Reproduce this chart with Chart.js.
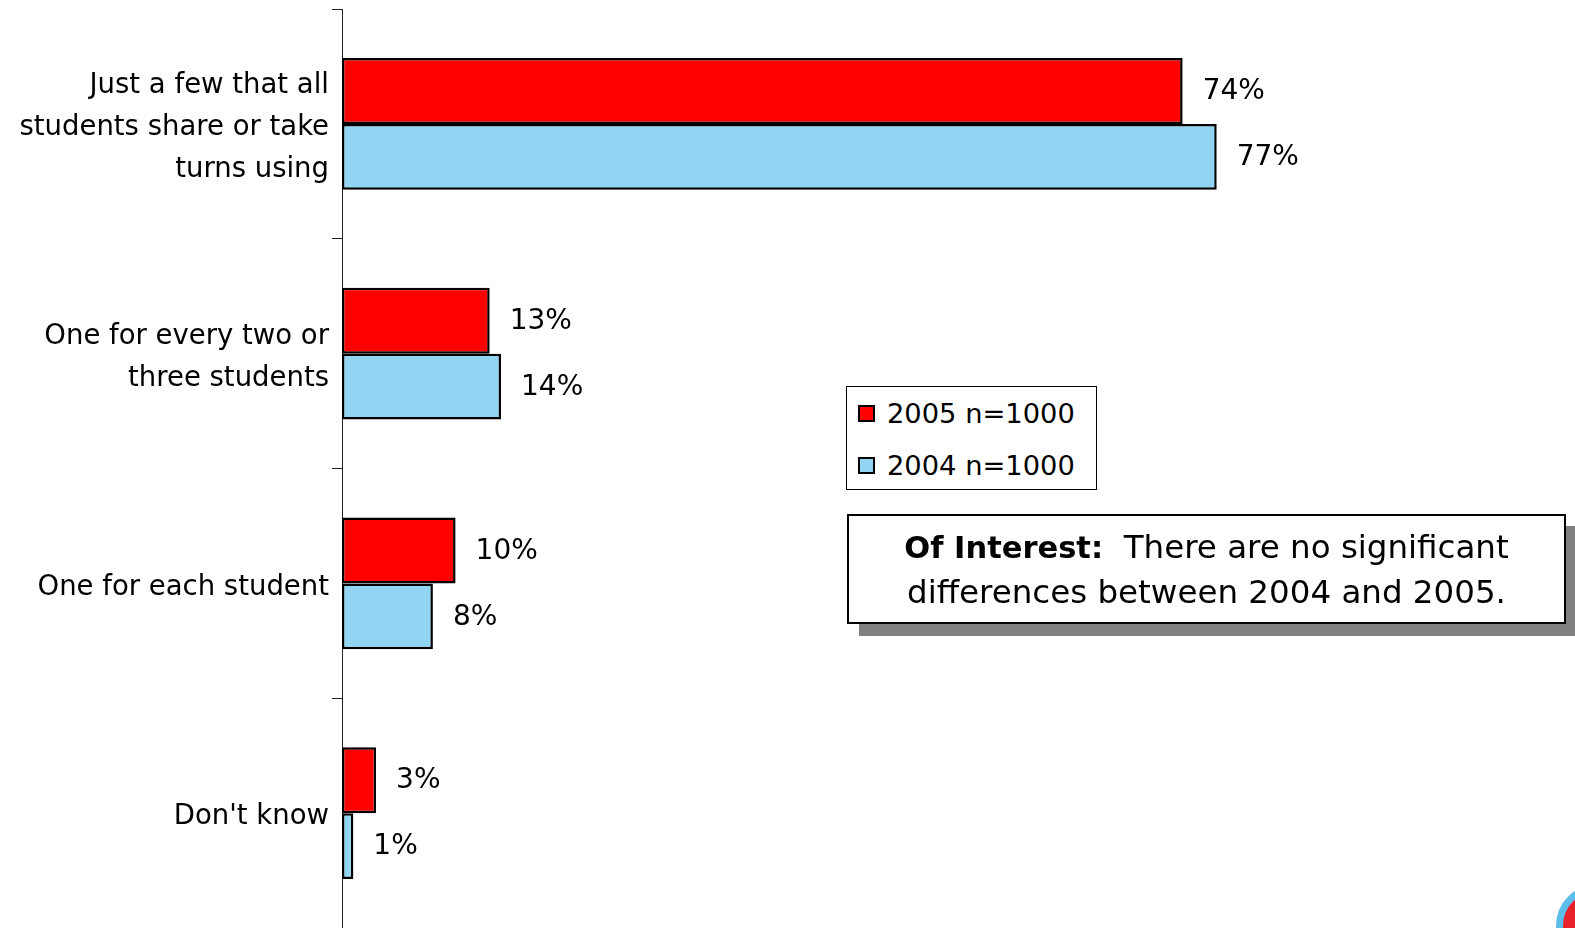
<!DOCTYPE html>
<html>
<head>
<meta charset="utf-8">
<script src="https://cdn.jsdelivr.net/npm/chart.js@4"></script>
<style>
  html, body { margin: 0; padding: 0; background: #fff; }
  #wrap { position: relative; width: 1575px; height: 928px; overflow: hidden; font-family: "DejaVu Sans", sans-serif; color: #000; }
  #legend { position: absolute; left: 846px; top: 386px; width: 249px; height: 102px; border: 1px solid #000; background: #fff; }
  .leg-row { position: absolute; left: 11px; height: 34px; display: flex; align-items: center; font-size: 27.3px; white-space: nowrap; }
  .leg-sw { width: 13px; height: 13px; border: 2px solid #000; margin-right: 12px; }
  #note { position: absolute; left: 847px; top: 514px; width: 715px; height: 106px; border: 2px solid #000; background: #fff;
          box-shadow: 12px 12px 0 #808080; display: flex; align-items: center; justify-content: center;
          text-align: center; font-size: 32.5px; line-height: 44px; }
  #note b { font-size: 30.5px; }
  /* corner of the logo peeking in at the bottom right */
  #logo { position: absolute; left: 1556px; top: 884px; width: 70px; height: 70px; border-radius: 50%;
          border: 7px solid #5cbde9; background: #e8202a; }
</style>
</head>
<body>
<div id="wrap">
  <canvas id="chart" width="1575" height="928"></canvas>
  <div id="legend"></div>
  <div id="note"><div><b>Of Interest:</b>&nbsp; There are no significant<br>differences between 2004 and 2005.</div></div>
  <div id="logo"></div>
</div>
<script>
// categories (multi-line labels) and values in percent
const CATEGORIES = [
  ['Just a few that all', 'students share or take', 'turns using'],
  ['One for every two or', 'three students'],
  ['One for each student'],
  ["Don't know"],
];
const SERIES_NAMES = ['2005 n=1000', '2004 n=1000'];
const SERIES_COLORS = ['#ff0000', '#92d5f3'];
const VALUES_2005 = [74, 13, 10, 3];
const VALUES_2004 = [77, 14, 8, 1];

const FONT = 'DejaVu Sans';

// percent labels to the right of each bar
const valueLabels = {
  id: 'valueLabels',
  afterDatasetsDraw(chart) {
    const ctx = chart.ctx;
    ctx.save();
    ctx.font = `28px "${FONT}"`;
    ctx.fillStyle = '#000';
    ctx.textBaseline = 'middle';
    ctx.textAlign = 'left';
    chart.data.datasets.forEach((ds, i) => {
      chart.getDatasetMeta(i).data.forEach((bar, j) => {
        ctx.fillText(ds.data[j] + '%', bar.x + 20, bar.y + 1);
      });
    });
    ctx.restore();
  }
};

const chart = new Chart(document.getElementById('chart'), {
  type: 'bar',
  data: {
    labels: CATEGORIES,
    datasets: [VALUES_2005, VALUES_2004].map((vals, i) => ({
      label: SERIES_NAMES[i],
      data: vals,
      backgroundColor: SERIES_COLORS[i],
      borderColor: '#000',
      borderWidth: 2.5,
      borderSkipped: false,
      categoryPercentage: 0.574,
      barPercentage: 1,
    })),
  },
  options: {
    indexAxis: 'y',
    responsive: false,
    animation: false,
    layout: { padding: { top: 9, right: 97, bottom: 0, left: 0 } },
    plugins: { legend: { display: false }, tooltip: { enabled: false } },
    scales: {
      x: { display: false, min: 0, max: 100 },
      y: {
        grid: { offset: true, drawOnChartArea: false, tickLength: 10, color: '#222', lineWidth: 1 },
        border: { color: '#222', width: 1 },
        ticks: { color: '#000', padding: 3, labelOffset: 4, font: { family: FONT, size: 27.5, lineHeight: 1.53 } },
        afterFit: (s) => {
          // pin the axis width and stop tall labels from shrinking the plot
          s.width = 342;
          s.paddingTop = 0;
          s.paddingBottom = 0;
        },
      },
    },
  },
  plugins: [valueLabels],
});

// legend built from the datasets
const legend = document.getElementById('legend');
chart.data.datasets.forEach((ds, i) => {
  const row = document.createElement('div');
  row.className = 'leg-row';
  row.style.top = (9 + i * 52) + 'px';
  row.innerHTML = `<span class="leg-sw" style="background:${ds.backgroundColor}"></span><span>${ds.label}</span>`;
  legend.appendChild(row);
});
</script>
</body>
</html>
